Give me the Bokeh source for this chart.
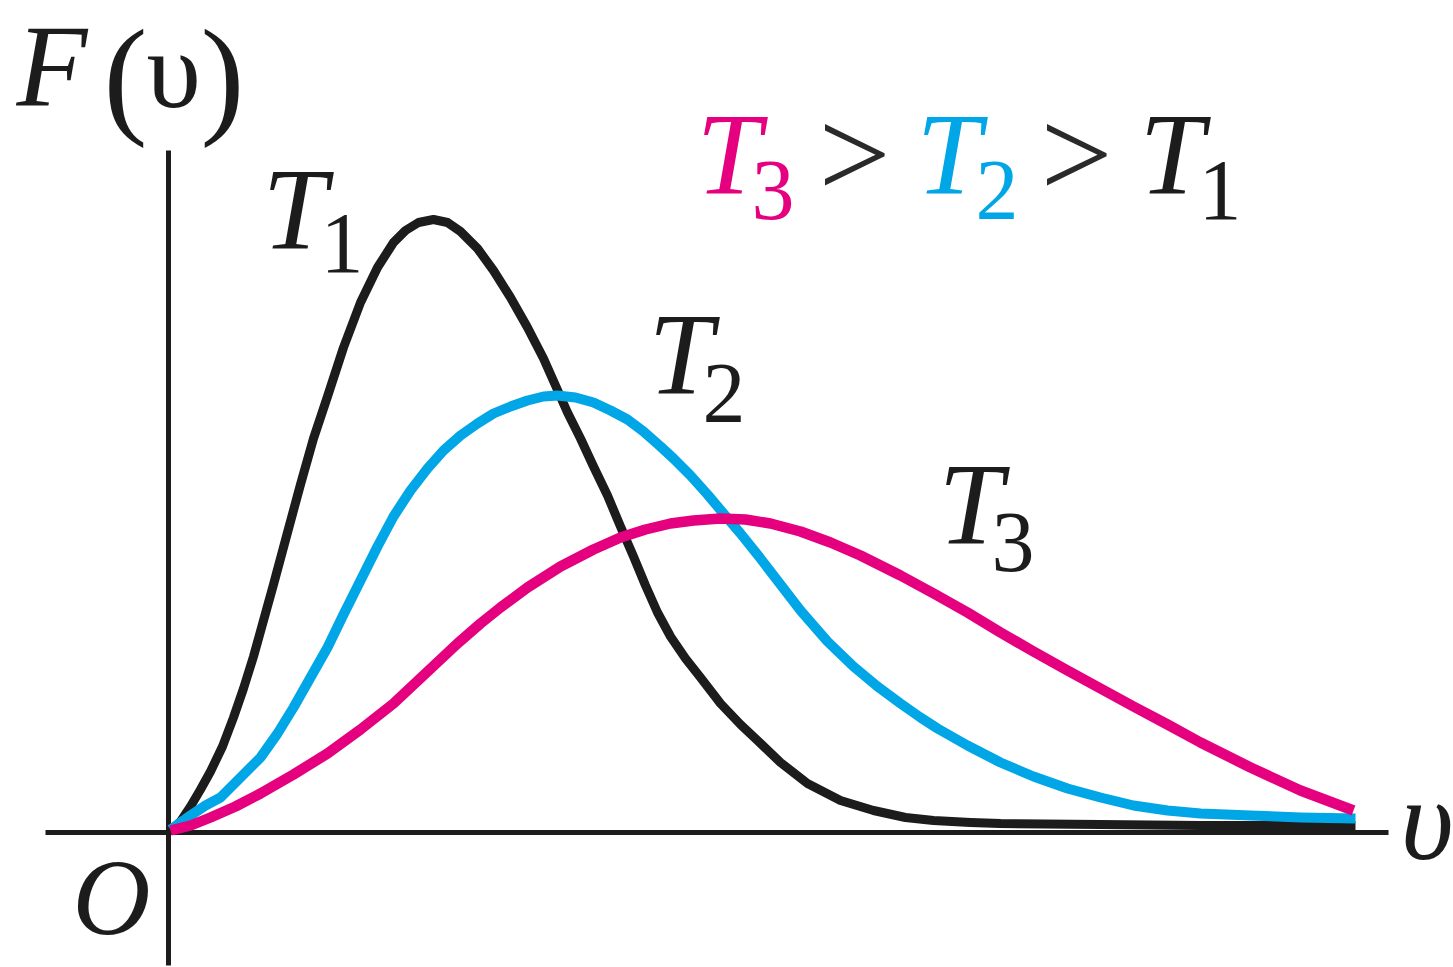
from bokeh.plotting import figure
from bokeh.models import Range1d
from bokeh.core.properties import value
from bokeh.embed import file_html
from bokeh.resources import INLINE

# Speed distribution F(v) at three temperatures (arbitrary units)
v_t1 = [0.02, 0.12, 0.22, 0.32, 0.42, 0.54, 0.65, 0.75, 0.85, 0.95, 1.05, 1.19,
        1.32, 1.45, 1.59, 1.75, 1.92, 2.09, 2.25, 2.37, 2.50, 2.65, 2.79, 2.92,
        3.09, 3.25, 3.42, 3.59, 3.75, 3.87, 3.99, 4.12, 4.25, 4.39, 4.52, 4.65,
        4.77, 4.89, 5.02, 5.17, 5.32, 5.52, 5.72, 5.89, 6.12, 6.39, 6.72, 7.05,
        7.37, 7.65, 8.02, 8.32, 9.32, 10.32, 11.87]
f_t1 = [0.02, 0.11, 0.26, 0.43, 0.61, 0.86, 1.15, 1.44, 1.76, 2.12, 2.48, 3.00,
        3.48, 3.94, 4.36, 4.85, 5.30, 5.65, 5.90, 6.02, 6.10, 6.13, 6.10, 6.01,
        5.84, 5.62, 5.35, 5.05, 4.74, 4.47, 4.20, 3.94, 3.66, 3.37, 3.06, 2.76,
        2.47, 2.20, 1.96, 1.74, 1.55, 1.29, 1.08, 0.92, 0.70, 0.49, 0.32, 0.22,
        0.15, 0.12, 0.10, 0.09, 0.08, 0.07, 0.07]

v_t2 = [0.02, 0.19, 0.37, 0.52, 0.72, 0.92, 1.09, 1.25, 1.42, 1.59, 1.75, 1.92,
        2.09, 2.25, 2.42, 2.59, 2.75, 2.92, 3.09, 3.25, 3.42, 3.59, 3.75, 3.89,
        4.07, 4.25, 4.42, 4.59, 4.75, 4.92, 5.05, 5.22, 5.39, 5.55, 5.72, 5.92,
        6.12, 6.32, 6.59, 6.85, 7.09, 7.32, 7.52, 7.69, 7.99, 8.32, 8.65, 8.99,
        9.32, 9.65, 9.99, 10.32, 10.82, 11.32, 11.87]
f_t2 = [0.03, 0.15, 0.27, 0.35, 0.55, 0.75, 0.99, 1.25, 1.55, 1.85, 2.18, 2.52,
        2.86, 3.16, 3.42, 3.64, 3.82, 3.97, 4.09, 4.19, 4.26, 4.32, 4.36, 4.37,
        4.35, 4.30, 4.22, 4.13, 4.01, 3.86, 3.74, 3.57, 3.38, 3.19, 2.99, 2.74,
        2.48, 2.22, 1.91, 1.66, 1.46, 1.29, 1.15, 1.04, 0.87, 0.70, 0.56, 0.44,
        0.35, 0.27, 0.22, 0.19, 0.17, 0.15, 0.14]

v_t3 = [0.02, 0.22, 0.42, 0.67, 0.92, 1.25, 1.59, 1.92, 2.25, 2.57, 2.89, 3.12,
        3.32, 3.59, 3.92, 4.25, 4.52, 4.77, 5.02, 5.25, 5.52, 5.77, 6.02, 6.32,
        6.62, 6.92, 7.32, 7.67, 7.99, 8.32, 8.65, 8.99, 9.32, 9.65, 9.99, 10.32,
        10.82, 11.32, 11.85]
f_t3 = [0.02, 0.07, 0.15, 0.26, 0.39, 0.58, 0.79, 1.03, 1.29, 1.59, 1.89, 2.09,
        2.25, 2.45, 2.66, 2.83, 2.95, 3.03, 3.09, 3.12, 3.14, 3.13, 3.09, 3.01,
        2.90, 2.77, 2.57, 2.38, 2.20, 2.00, 1.81, 1.62, 1.44, 1.26, 1.08, 0.90,
        0.65, 0.42, 0.22]

INK = "#1c1c1c"
PINK = "#e5007f"
CYAN = "#00a6e6"
SERIF = value("Liberation Serif")

p = figure(width=1453, height=967, x_range=Range1d(-1.68, 12.85),
           y_range=Range1d(-1.35, 8.32), output_backend="svg",
           toolbar_location=None, min_border=0)
p.axis.visible = False
p.grid.visible = False
p.outline_line_color = None
p.background_fill_color = "white"
p.border_fill_color = "white"

# coordinate axes through the origin
p.segment(x0=[-1.23, 0.0], y0=[0.0, -1.33], x1=[12.20, 0.0], y1=[0.0, 6.82],
          line_color=INK, line_width=5)

# the three curves
p.line(v_t1, f_t1, line_color=INK, line_width=9, line_join="round", line_cap="butt")
p.line(v_t2, f_t2, line_color=CYAN, line_width=10, line_join="round", line_cap="butt")
p.line(v_t3, f_t3, line_color=PINK, line_width=10.5, line_join="round", line_cap="butt")


def label(x, y, s, size, color=INK, style="normal"):
    # x: left edge, y: baseline, both in screen pixels from the top-left
    base = y - 0.35 * size
    p.text(x=[(x - 168) / 100], y=[(832 - base) / 100], text=[s],
           text_font=SERIF, text_font_size=f"{size}px", text_font_style=style,
           text_color=color, text_align="left", text_baseline="alphabetic")


# axis titles
label(16, 106, "F", 116, style="italic")
label(103, 121, "(", 132)
label(146, 108, "υ", 110)
label(200, 121, ")", 132)
label(72, 935, "O", 108, style="italic")
label(1400, 860, "υ", 116, style="italic")

# curve labels
label(262, 250, "T", 116, style="italic")
label(320, 273, "1", 86)
label(648, 395, "T", 116, style="italic")
label(702, 423, "2", 86)
label(938, 545, "T", 116, style="italic")
label(991, 572, "3", 86)

# ordering of temperatures
label(696, 195, "T", 116, PINK, "italic")
label(751, 220, "3", 86, PINK)
label(818, 198, ">", 128, "#2a2a2a")
label(916, 195, "T", 116, CYAN, "italic")
label(975, 220, "2", 86, CYAN)
label(1040, 198, ">", 128, "#2a2a2a")
label(1139, 195, "T", 116, INK, "italic")
label(1198, 220, "1", 86, INK)

open("out.html", "w").write(file_html(p, INLINE))
